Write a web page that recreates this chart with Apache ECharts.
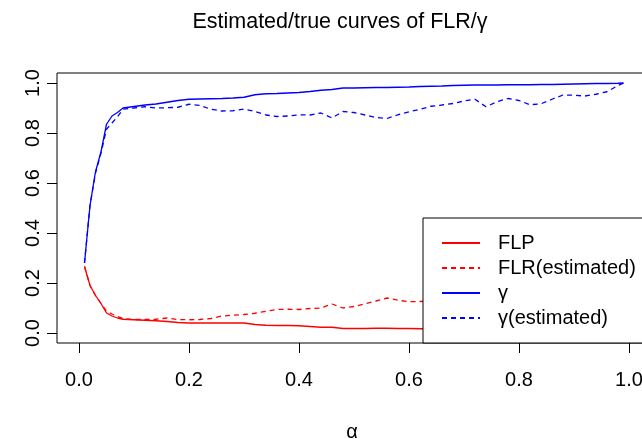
<!DOCTYPE html>
<html>
<head>
<meta charset="utf-8">
<script src="https://cdn.jsdelivr.net/npm/echarts@6/dist/echarts.min.js"></script>
<style>
  html, body {margin: 0; padding: 0; background: #fff;}
  #main {width: 642px; height: 439px;}
</style>
</head>
<body>
<div id="main"></div>
<script>
// alpha grid used by every curve
const alpha = [0.01, 0.02, 0.03, 0.04, 0.05, 0.06, 0.07, 0.08,
  0.10, 0.12, 0.14, 0.16, 0.18, 0.20, 0.22, 0.24, 0.26, 0.28, 0.30,
  0.32, 0.34, 0.36, 0.38, 0.40, 0.42, 0.44, 0.46, 0.48, 0.50,
  0.52, 0.54, 0.56, 0.58, 0.60, 0.62, 0.64, 0.66, 0.68, 0.70,
  0.72, 0.74, 0.76, 0.78, 0.80, 0.82, 0.84, 0.86, 0.88, 0.90,
  0.92, 0.94, 0.96, 0.98, 0.99];

const gammaTrue = [0.28, 0.51, 0.645, 0.725, 0.835, 0.868, 0.882, 0.90,
  0.906, 0.912, 0.916, 0.923, 0.930, 0.935, 0.936, 0.937, 0.938, 0.940, 0.943,
  0.953, 0.957, 0.958, 0.960, 0.962, 0.966, 0.971, 0.974, 0.980, 0.980,
  0.981, 0.982, 0.982, 0.983, 0.984, 0.986, 0.987, 0.988, 0.990, 0.991,
  0.992, 0.992, 0.992, 0.993, 0.993, 0.993, 0.994, 0.994, 0.995, 0.996,
  0.997, 0.998, 0.998, 0.999, 1.0];

const gammaEst = [0.28, 0.51, 0.64, 0.72, 0.815, 0.84, 0.865, 0.895,
  0.90, 0.905, 0.90, 0.901, 0.903, 0.915, 0.91, 0.895, 0.888, 0.889, 0.896,
  0.886, 0.872, 0.866, 0.868, 0.873, 0.872, 0.88, 0.86, 0.886, 0.882,
  0.872, 0.862, 0.858, 0.873, 0.885, 0.895, 0.907, 0.912, 0.918, 0.928,
  0.935, 0.905, 0.925, 0.938, 0.93, 0.913, 0.917, 0.935, 0.952, 0.951,
  0.948, 0.955, 0.965, 0.99, 1.0];

// red curves disappear behind the legend after 0.64
const flpTrue = [0.266, 0.19, 0.15, 0.118, 0.08, 0.068, 0.06, 0.055,
  0.053, 0.051, 0.049, 0.046, 0.042, 0.040, 0.040, 0.040, 0.040, 0.040, 0.040,
  0.034, 0.031, 0.030, 0.030, 0.029, 0.026, 0.023, 0.023, 0.018, 0.018,
  0.018, 0.019, 0.019, 0.018, 0.018, 0.017, 0.016];

const flrEst = [0.266, 0.19, 0.15, 0.118, 0.087, 0.076, 0.066, 0.058,
  0.054, 0.054, 0.055, 0.060, 0.054, 0.053, 0.054, 0.058, 0.068, 0.071, 0.074,
  0.079, 0.087, 0.094, 0.095, 0.094, 0.098, 0.10, 0.116, 0.10, 0.106,
  0.117, 0.128, 0.14, 0.131, 0.125, 0.126, 0.13];

const ticks = [0, 0.2, 0.4, 0.6, 0.8, 1.0];

const font = 'Liberation Sans, Arial, Helvetica, sans-serif';

function pairs(ys) {
  return ys.map((y, i) => [alpha[i], y]);
}

function line(name, color, type, ys) {
  return {
    name: name,
    type: 'line',
    data: pairs(ys),
    symbol: 'none',
    showSymbol: false,
    animation: false,
    lineStyle: {color: color, width: 1.3, type: type},
    itemStyle: {color: color}
  };
}

const myChart = echarts.init(document.getElementById('main'));
myChart.setOption({
  animation: false,
  textStyle: {fontFamily: font},
  title: {
    text: 'Estimated/true curves of FLR/γ',
    left: 340, top: 11, padding: 0, textAlign: 'center',
    textStyle: {fontSize: 21.5, fontWeight: 'normal', color: '#000', fontFamily: font}
  },
  grid: {
    left: 57, top: 73, width: 594, height: 270,
    containLabel: false, outerBoundsMode: 'none',
    show: true, borderColor: '#000', borderWidth: 1, backgroundColor: 'transparent'
  },
  xAxis: {
    type: 'value', min: -0.04, max: 1.04,
    name: 'α', nameLocation: 'middle', nameGap: 79,
    nameTextStyle: {fontSize: 20, color: '#000', fontFamily: font, padding: [0, 4, 0, 0]},
    axisLine: {show: false, onZero: false},
    splitLine: {show: false},
    axisTick: {show: true, customValues: ticks, length: 10, lineStyle: {color: '#000', width: 1}},
    axisLabel: {
      customValues: ticks, margin: 27, fontSize: 20, color: '#000', fontFamily: font,
      formatter: v => v.toFixed(1)
    }
  },
  yAxis: {
    type: 'value', min: -0.04, max: 1.04,
    axisLine: {show: false, onZero: false},
    splitLine: {show: false},
    axisTick: {show: true, customValues: ticks, length: 10, lineStyle: {color: '#000', width: 1}},
    axisLabel: {
      customValues: ticks, margin: 14, rotate: 90, fontSize: 20, color: '#000', fontFamily: font,
      formatter: v => v.toFixed(1)
    }
  },
  legend: {
    orient: 'vertical', left: 423, top: 218,
    itemWidth: 38, itemHeight: 20, itemGap: 5,
    padding: [15, 40, 15, 18],
    backgroundColor: '#fff', borderColor: '#000', borderWidth: 1, borderRadius: 0,
    selectedMode: false,
    itemStyle: {color: 'rgba(0,0,0,0)', borderWidth: 0, opacity: 0},
    textStyle: {fontSize: 20, color: '#000', fontFamily: font, padding: [0, 0, 0, 13]},
    data: ['FLP', 'FLR(estimated)', 'γ', 'γ(estimated)']
  },
  series: [
    line('FLP', '#ff0000', 'solid', flpTrue),
    line('FLR(estimated)', '#ff0000', [5, 4], flrEst),
    line('γ', '#0000ff', 'solid', gammaTrue),
    line('γ(estimated)', '#0000ff', [5, 4], gammaEst)
  ]
});
</script>
</body>
</html>
